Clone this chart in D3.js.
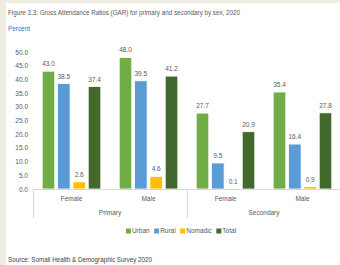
<!DOCTYPE html>
<html>
<head>
<meta charset="utf-8">
<script src="https://cdn.jsdelivr.net/npm/d3@7"></script>
<style>
body { margin: 0; background: #efece2; }
text { font-family: "Liberation Sans", Arial, sans-serif; }
</style>
</head>
<body>
<script>
var width = 340
var height = 265

// data
var levels = ['Primary', 'Secondary']
var sexes = ['Female', 'Male']
var series = ['Urban', 'Rural', 'Nomadic', 'Total']
var series_colours = ['#70ad47', '#5b9bd5', '#ffc000', '#43682b']
var urban = [43.0, 48.0, 27.7, 35.4]
var rural = [38.5, 39.5, 9.5, 16.4]
var nomadic = [2.6, 4.6, 0.1, 0.9]
var total = [37.4, 41.2, 20.9, 27.8]
var y_ticks = [0, 5, 10, 15, 20, 25, 30, 35, 40, 45, 50]

var values = [urban, rural, nomadic, total]
var groups = []
levels.forEach(function(l) { sexes.forEach(function(s) { groups.push(l + '|' + s) }) })

var svg = d3.select('body')
  .append('svg')
  .attr('width', width)
  .attr('height', height)

// white panel
svg.append('rect')
  .attr('x', 6).attr('y', 3)
  .attr('width', width - 6).attr('height', height - 3)
  .attr('fill', '#ffffff')

svg.append('text')
  .attr('x', 8).attr('y', 15)
  .text('Figure 3.3: Gross Attendance Ratios (GAR) for primary and secondary by sex, 2020')
  .attr('fill', '#595959')
  .attr('textLength', 232)
  .attr('lengthAdjust', 'spacingAndGlyphs')
  .style('font-size', '8px')

svg.append('text')
  .attr('x', 8).attr('y', 31)
  .text('Percent')
  .attr('fill', '#2e75b6')
  .attr('textLength', 22)
  .attr('lengthAdjust', 'spacingAndGlyphs')
  .style('font-size', '8px')

var y = d3.scaleLinear()
  .domain([0, 50])
  .range([189, 52])

var x = d3.scaleBand()
  .domain(groups)
  .range([33, 341])

var x_inner = d3.scaleBand()
  .domain(series)
  .range([0, x.bandwidth()])
  .paddingInner(0.18)
  .paddingOuter(0.6)

var colour = d3.scaleOrdinal().domain(series).range(series_colours)

// y tick labels
svg.selectAll('.ytick')
  .data(y_ticks)
  .enter()
  .append('text')
  .attr('x', 28)
  .attr('y', function(d) { return y(d) + 2.5 })
  .attr('text-anchor', 'end')
  .text(function(d) { return d3.format('.1f')(d) })
  .attr('fill', '#595959')
  .style('font-size', '6.5px')

// bars
var bar_data = []
series.forEach(function(s, i) {
  groups.forEach(function(g, j) {
    bar_data.push({series: s, group: g, value: values[i][j]})
  })
})

svg.selectAll('.bar')
  .data(bar_data)
  .enter()
  .append('rect')
  .attr('x', function(d) { return x(d.group) + x_inner(d.series) })
  .attr('y', function(d) { return y(d.value) })
  .attr('width', x_inner.bandwidth())
  .attr('height', function(d) { return y(0) - y(d.value) })
  .attr('fill', function(d) { return colour(d.series) })
  .attr('stroke', '#ffffff')
  .attr('stroke-width', 0.8)

svg.selectAll('.val')
  .data(bar_data)
  .enter()
  .append('text')
  .attr('x', function(d) { return x(d.group) + x_inner(d.series) + x_inner.bandwidth() / 2 })
  .attr('y', function(d) { return y(d.value) - 5 })
  .attr('text-anchor', 'middle')
  .text(function(d) { return d3.format('.1f')(d.value) })
  .attr('fill', '#595959')
  .style('font-size', '6.5px')

// category axis
svg.append('line')
  .attr('x1', 33).attr('x2', 341)
  .attr('y1', 189.5).attr('y2', 189.5)
  .attr('stroke', '#d9d9d9')

levels.forEach(function(l) {
  var x0 = x(l + '|' + sexes[0])
  svg.append('line')
    .attr('x1', x0 + 0.5).attr('x2', x0 + 0.5)
    .attr('y1', 189).attr('y2', 218)
    .attr('stroke', '#d9d9d9')
  svg.append('text')
    .attr('x', x0 + x.bandwidth())
    .attr('y', 215)
    .attr('text-anchor', 'middle')
    .text(l)
    .attr('fill', '#595959')
    .style('font-size', '6.5px')
})

svg.selectAll('.xlab')
  .data(groups)
  .enter()
  .append('text')
  .attr('x', function(d) { return x(d) + x.bandwidth() / 2 })
  .attr('y', 201)
  .attr('text-anchor', 'middle')
  .text(function(d) { return d.split('|')[1] })
  .attr('fill', '#595959')
  .style('font-size', '6.5px')

// legend, laid out one after another and centred
var legend = svg.append('g')
var lx = 0
series.forEach(function(s) {
  var item = legend.append('g').attr('transform', 'translate(' + lx + ',0)')
  item.append('rect')
    .attr('x', 0).attr('y', -2.5)
    .attr('width', 5).attr('height', 5)
    .attr('fill', colour(s))
  var t = item.append('text')
    .attr('x', 6).attr('y', 2.3)
    .text(s)
    .attr('fill', '#595959')
    .style('font-size', '6.5px')
  lx += 6 + t.node().getComputedTextLength() + 4.5
})
legend.attr('transform', 'translate(' + (181 - (lx - 4.5) / 2) + ',231)')

svg.append('text')
  .attr('x', 8).attr('y', 262)
  .text('Source: Somali Health & Demographic Survey 2020')
  .attr('fill', '#404040')
  .attr('textLength', 144)
  .attr('lengthAdjust', 'spacingAndGlyphs')
  .style('font-size', '8px')
</script>
</body>
</html>
